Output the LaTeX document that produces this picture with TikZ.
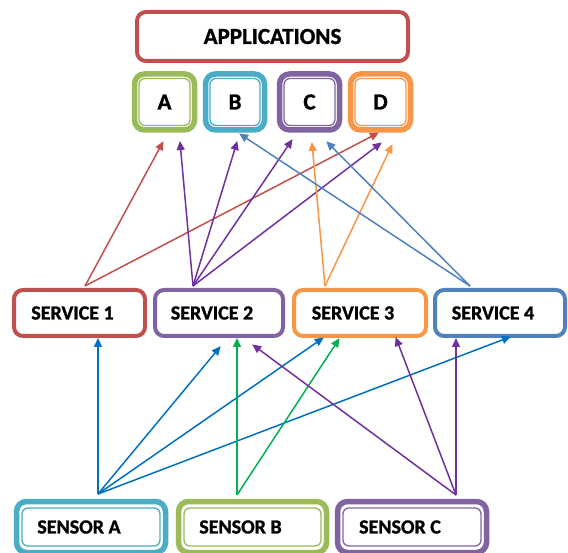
\documentclass[tikz,border=0pt]{standalone}
\usepackage{fontspec}
\setmainfont{Carlito}[BoldFeatures={FakeBold=1.2}]
\usetikzlibrary{arrows.meta}
\definecolor{cRed}{HTML}{C0504D}
\definecolor{cPur}{HTML}{8064A2}
\definecolor{cOra}{HTML}{F79646}
\definecolor{cBlu}{HTML}{4F81BD}
\definecolor{cGrn}{HTML}{9BBB59}
\definecolor{cAqu}{HTML}{4BACC6}
\definecolor{aPur}{HTML}{7030A0}
\definecolor{aBlu}{HTML}{0070C0}
\definecolor{aGrn}{HTML}{00B050}
\definecolor{aOra}{HTML}{F79646}
\definecolor{aBl2}{HTML}{4F81BD}
\tikzset{
  box/.style={draw=#1, line width=4pt, rounded corners=9pt, fill=white, inner sep=0pt, font=\bfseries\fontsize{20}{22}\selectfont},
  dbox/.style={draw=#1, line width=5.5pt, rounded corners=10pt, fill=white, inner sep=0pt},
  ibox/.style={draw=#1, line width=1.3pt, rounded corners=6pt, inner sep=0pt},
  big/.style={font=\bfseries\fontsize{23}{25}\selectfont},
  sens/.style={font=\bfseries\fontsize{20}{22}\selectfont},
  arr/.style={draw=#1, line width=1.5pt, -{Triangle[length=9pt,width=8pt]}, shorten >=-1pt},
}
\begin{document}
\begin{tikzpicture}[x=1pt,y=-1pt]
\useasboundingbox (0,0) rectangle (568,553);
% applications
\node[box=cRed, minimum width=271pt, minimum height=49pt, big] (apps) at (272.5,36.5) {APPLICATIONS};
% apps A-D
\node[dbox=cGrn, minimum width=60pt, minimum height=56pt] (A) at (164.5,102) {};
\node[dbox=cAqu, minimum width=59pt, minimum height=56pt] (B) at (235,102) {};
\node[dbox=cPur, minimum width=60pt, minimum height=56pt] (C) at (309.5,102) {};
\node[dbox=cOra, minimum width=60pt, minimum height=56pt] (D) at (380.5,102) {};
\node[ibox=cGrn, minimum width=51pt, minimum height=47pt, big] (Ai) at (A) {A};
\node[ibox=cAqu, minimum width=50pt, minimum height=47pt, big] (Bi) at (B) {B};
\node[ibox=cPur, minimum width=51pt, minimum height=47pt, big] (Ci) at (C) {C};
\node[ibox=cOra, minimum width=51pt, minimum height=47pt, big] (Di) at (D) {D};
% services
\node[box=cRed, minimum width=131pt, minimum height=46pt] (s1) at (79.5,313) {\hspace*{-14pt}SERVICE 1};
\node[box=cPur, minimum width=128pt, minimum height=46pt] (s2) at (219,313) {\hspace*{-14pt}SERVICE 2};
\node[box=cOra, minimum width=132pt, minimum height=46pt] (s3) at (360,313) {\hspace*{-14pt}SERVICE 3};
\node[box=cBlu, minimum width=130pt, minimum height=46pt] (s4) at (500,313) {\hspace*{-14pt}SERVICE 4};
% sensors
\node[dbox=cAqu, minimum width=149pt, minimum height=51pt] (sa) at (91,527) {};
\node[dbox=cGrn, minimum width=148pt, minimum height=51pt] (sb) at (252.5,527) {};
\node[dbox=cPur, minimum width=149pt, minimum height=51pt] (sc) at (412,527) {};
\node[ibox=cAqu, minimum width=138pt, minimum height=38pt, sens] (sai) at (sa) {\hspace*{-24pt}SENSOR A};
\node[ibox=cGrn, minimum width=137pt, minimum height=38pt, sens] (sbi) at (sb) {\hspace*{-24pt}SENSOR B};
\node[ibox=cPur, minimum width=138pt, minimum height=38pt, sens] (sci) at (sc) {\hspace*{-24pt}SENSOR C};
% connector end points
\coordinate (o1) at (85,286);
\coordinate (o2) at (193,286);
\coordinate (o3) at (325,286);
\coordinate (o4) at (470,286);
\coordinate (oa) at (98,494);
\coordinate (ob) at (237,495);
\coordinate (oc) at (456,495);
\coordinate (tA1) at (163,142);
\coordinate (tA2) at (180,142);
\coordinate (tB1) at (237,142);
\coordinate (tB2) at (240,134);
\coordinate (tC1) at (292,140);
\coordinate (tC2) at (312,143);
\coordinate (tC3) at (327,142);
\coordinate (tD1) at (378,133);
\coordinate (tD2) at (381,143);
\coordinate (tD3) at (392,145);
\coordinate (t1a) at (98,339);
\coordinate (t2a) at (220,347);
\coordinate (t2b) at (237,339);
\coordinate (t2c) at (253,345);
\coordinate (t3a) at (323,338);
\coordinate (t3b) at (339,339);
\coordinate (t3c) at (396,338);
\coordinate (t4c) at (456,339);
\coordinate (t4a) at (510,337);
% upper arrows
\draw[arr=cRed] (o1) -- (tA1);
\draw[arr=cRed] (o1) -- (tD1);
\draw[arr=aPur] (o2) -- (tA2);
\draw[arr=aPur] (o2) -- (tB1);
\draw[arr=aPur] (o2) -- (tC1);
\draw[arr=aPur] (o2) -- (tD2);
\draw[arr=aOra] (o3) -- (tC2);
\draw[arr=aOra] (o3) -- (tD3);
\draw[arr=aBl2] (o4) -- (tB2);
\draw[arr=aBl2] (o4) -- (tC3);
% lower arrows
\draw[arr=aBlu] (oa) -- (t1a);
\draw[arr=aBlu] (oa) -- (t2a);
\draw[arr=aBlu] (oa) -- (t3a);
\draw[arr=aBlu] (oa) -- (t4a);
\draw[arr=aGrn] (ob) -- (t2b);
\draw[arr=aGrn] (ob) -- (t3b);
\draw[arr=aPur] (oc) -- (t2c);
\draw[arr=aPur] (oc) -- (t3c);
\draw[arr=aPur] (oc) -- (t4c);
\end{tikzpicture}
\end{document}
